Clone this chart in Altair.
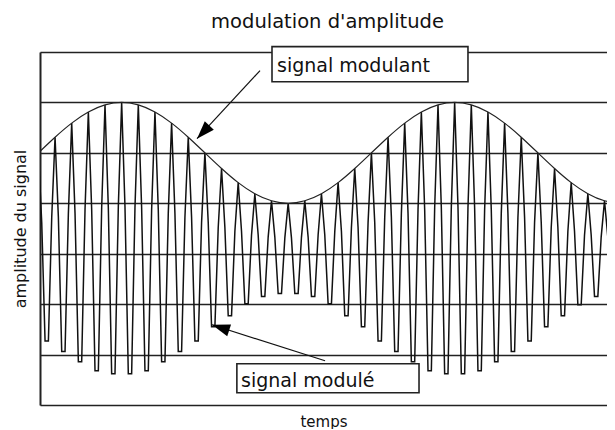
import altair as alt
import pandas as pd

# ---- data (amplitude units: one gridline = 1) ----
# crest of each carrier period of the modulated signal
crest_values = [2.00, 2.31, 2.59, 2.81, 2.95, 3.00, 2.95, 2.81, 2.59, 2.31,
                2.00, 1.69, 1.41, 1.19, 1.05, 1.00, 1.05, 1.19, 1.41, 1.69,
                2.00, 2.31, 2.59, 2.81, 2.95, 3.00, 2.95, 2.81, 2.59, 2.31,
                2.00, 1.69, 1.41, 1.19, 1.05, 1.00]
# level of the kinks on both flanks of each crest
shoulder_values = [0.62, 0.72, 0.80, 0.87, 0.91, 0.93, 0.91, 0.87, 0.80, 0.72,
                   0.62, 0.52, 0.44, 0.37, 0.33, 0.31, 0.33, 0.37, 0.44, 0.52,
                   0.62, 0.72, 0.80, 0.87, 0.91, 0.93, 0.91, 0.87, 0.80, 0.72,
                   0.62, 0.52, 0.44, 0.37, 0.33, 0.31]
# flat bottom of each trough between two crests
trough_values = [-1.73, -1.94, -2.14, -2.32, -2.38, -2.38, -2.32, -2.14, -1.94, -1.73,
                 -1.45, -1.23, -0.99, -0.85, -0.79, -0.79, -0.85, -0.99, -1.23, -1.45,
                 -1.73, -1.94, -2.14, -2.32, -2.38, -2.38, -2.32, -2.14, -1.94, -1.73,
                 -1.45, -1.23, -1.01, -0.85, -0.79]
y_ticks = [-3, -2, -1, 0, 1, 2, 3, 4]
x_domain = [0.48, 170.75]
title_text = "modulation d'amplitude"

# annotation boxes / labels / arrows (in data units)
labels = ["signal modulant", "signal modulé"]
box_x = [70.15, 59.6]
box_x2 = [129.0, 114.3]
box_y = [3.41, -2.183]
box_y2 = [4.107, -2.758]
text_x = [71.65, 60.85]
text_y = [3.611, -2.639]
arrow_x = [66.55, 86.08]
arrow_y = [3.631, -2.123]
tip_x = [47.63, 52.13]
tip_y = [2.282, -1.409]
tip_angle = [223, 288]

# ---- tables ----
rows = []
for i, c in enumerate(crest_values):
    rows.append({"t": 5 * i, "a": c})
    if i < len(trough_values):
        rows.append({"t": 5 * i + 1, "a": shoulder_values[i]})
        rows.append({"t": 5 * i + 2, "a": trough_values[i]})
        rows.append({"t": 5 * i + 3, "a": trough_values[i]})
        rows.append({"t": 5 * i + 4, "a": shoulder_values[i + 1]})
mod = pd.DataFrame(rows)
env = pd.DataFrame({"t": [5 * k for k in range(len(crest_values))], "a": crest_values})
ann = pd.DataFrame({"label": labels, "bx": box_x, "bx2": box_x2, "by": box_y, "by2": box_y2,
                    "tx": text_x, "ty": text_y, "ax": arrow_x, "ay": arrow_y,
                    "hx": tip_x, "hy": tip_y, "ang": tip_angle})
ttl = pd.DataFrame({"title": [title_text]})

xs = alt.Scale(domain=x_domain, nice=False, zero=False)
ys = alt.Scale(domain=[-3, 4], nice=False, zero=False)
FONT = "DejaVu Sans"

xax = alt.Axis(title="temps", labels=False, ticks=False, domain=False, grid=False,
               titleFont=FONT, titleFontSize=15, titleFontWeight="normal",
               titleColor="#111", titlePadding=9)
yax = alt.Axis(title="amplitude du signal", labels=False, ticks=False,
               domain=True, domainColor="#222", domainWidth=2,
               grid=True, values=y_ticks, gridColor="#222", gridWidth=1.6,
               gridOpacity=1, titleFont=FONT, titleFontSize=16,
               titleFontWeight="normal", titleColor="#111", titlePadding=12)

carrier = alt.Chart(mod).mark_line(color="#111", strokeWidth=1.5, clip=True).encode(
    x=alt.X("t:Q", scale=xs, axis=xax),
    y=alt.Y("a:Q", scale=ys, axis=yax),
)
envelope = alt.Chart(env).mark_line(color="#222", strokeWidth=1.2, clip=True,
                                    interpolate="natural").encode(
    x=alt.X("t:Q", scale=xs),
    y=alt.Y("a:Q", scale=ys),
)
shafts = alt.Chart(ann).mark_rule(color="#111", strokeWidth=1.2).encode(
    x=alt.X("ax:Q", scale=xs), y=alt.Y("ay:Q", scale=ys),
    x2="hx:Q", y2="hy:Q",
)
heads = alt.Chart(ann).mark_point(
    shape="M0,0L0.65,1.9L-0.65,1.9Z", filled=True, color="#000", opacity=1, size=360,
).encode(
    x=alt.X("hx:Q", scale=xs), y=alt.Y("hy:Q", scale=ys),
    angle=alt.Angle("ang:Q", scale=None),
)
boxes = alt.Chart(ann).mark_rect(fill="white", stroke="#222", strokeWidth=1.6).encode(
    x=alt.X("bx:Q", scale=xs), x2="bx2:Q",
    y=alt.Y("by:Q", scale=ys), y2="by2:Q",
)
texts = alt.Chart(ann).mark_text(align="left", baseline="alphabetic", font=FONT,
                                 fontSize=19, color="#111").encode(
    x=alt.X("tx:Q", scale=xs), y=alt.Y("ty:Q", scale=ys), text="label:N",
)
title = alt.Chart(ttl).mark_text(align="center", baseline="alphabetic", font=FONT,
                                 fontSize=19.5, color="#111").encode(
    x=alt.value(287.5), y=alt.value(-24), text="title:N",
)

chart = alt.layer(carrier, envelope, shafts, heads, boxes, texts, title).properties(
    width=567, height=353,
    autosize=alt.AutoSizeParams(type="none"),
    padding={"left": 32, "top": 44, "right": 0, "bottom": 24},
).configure_view(stroke=None, strokeWidth=0).configure(background="white")

chart.save("out.html", embed_options={"renderer": "svg", "actions": False})
